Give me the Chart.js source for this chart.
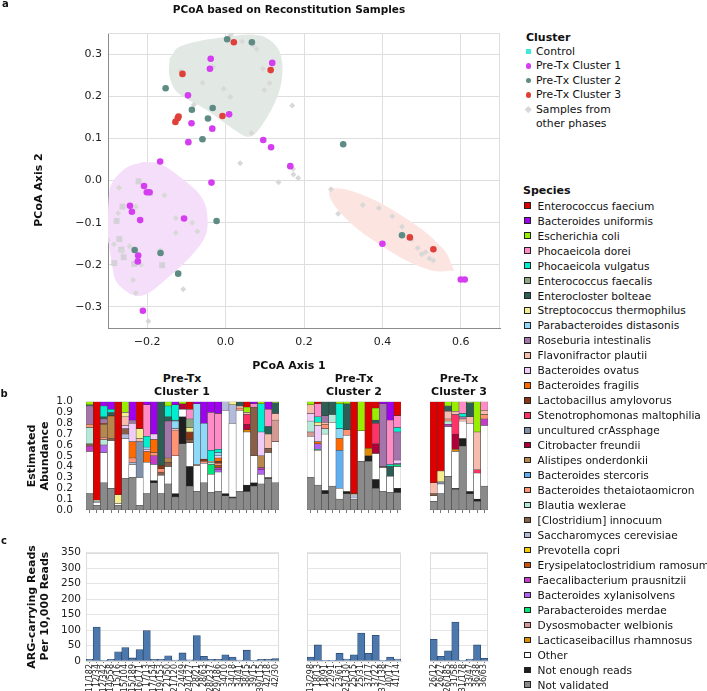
<!DOCTYPE html>
<html>
<head>
<meta charset="utf-8">
<title>PCoA based on Reconstitution Samples</title>
<script src="https://cdn.jsdelivr.net/npm/chart.js@4.4.1/dist/chart.umd.min.js"></script>
<style>
html,body{margin:0;padding:0;background:#fff;}
#fig{position:relative;width:707px;height:691px;overflow:hidden;font-family:'DejaVu Sans',sans-serif;color:#111;}
#fig canvas{position:absolute;}
.txt{position:absolute;white-space:nowrap;line-height:1;}
.mk{position:absolute;box-sizing:border-box;}
</style>
</head>
<body>
<div id="fig"></div>
<script>
// ================= DATA =================
const scatterXTicks = [-0.2, 0, 0.2, 0.4, 0.6];
const scatterYTicks = [-0.3, -0.2, -0.1, 0, 0.1, 0.2, 0.3];

const preTxCluster1Points = [[-0.038,0.289],[-0.040,0.265],[0.119,0.279],[-0.096,0.202],[0.009,0.157],[-0.087,0.136],[-0.034,0.123],[-0.095,0.091],[0.096,0.096],[0.116,0.079],[-0.167,0.045],[0.165,0.034],[-0.036,-0.005],[-0.208,-0.013],[-0.201,-0.028],[-0.194,-0.028],[-0.244,-0.060],[-0.239,-0.074],[-0.218,-0.094],[-0.106,-0.090],[-0.223,-0.178],[-0.224,-0.192],[-0.211,-0.309],[0.40,-0.15],[0.60,-0.235],[0.61,-0.235]];
const preTxCluster2Points = [[0.004,0.335],[0.067,0.328],[-0.153,0.219],[-0.086,0.168],[-0.033,0.172],[-0.045,0.147],[-0.059,0.098],[0.300,0.086],[-0.232,-0.165],[-0.166,-0.172],[-0.121,-0.221],[-0.023,-0.096],[0.45,-0.13]];
const preTxCluster3Points = [[0.021,0.328],[-0.110,0.253],[0.115,0.262],[-0.120,0.152],[-0.122,0.148],[-0.128,0.139],[-0.008,0.153],[0.47,-0.135],[0.53,-0.163]];
const otherPhasePoints = [[0.016,0.350],[0.012,0.345],[0.042,0.330],[0.070,0.321],[0.079,0.312],[-0.032,0.270],[-0.115,0.259],[0.095,0.265],[-0.059,0.232],[0.112,0.231],[-0.005,0.218],[0.099,0.215],[0.012,0.198],[-0.081,0.180],[0.170,0.178],[0.066,0.113],[0.037,0.041],[0.172,0.028],[0.173,0.014],[0.185,0.006],[0.135,-0.004],[-0.272,-0.017],[-0.229,-0.062],[-0.274,-0.078],[-0.156,-0.035],[-0.127,-0.089],[-0.085,-0.100],[-0.072,-0.121],[-0.127,-0.124],[-0.301,-0.142],[-0.285,-0.151],[-0.245,-0.156],[-0.263,-0.168],[-0.167,-0.165],[-0.216,-0.200],[-0.236,-0.236],[-0.229,-0.267],[-0.108,-0.258],[-0.197,-0.334],[0.269,-0.021],[0.287,-0.079],[0.350,-0.058],[0.391,-0.065],[0.425,-0.085],[0.45,-0.11],[0.475,-0.14],[0.49,-0.16],[0.51,-0.17],[0.52,-0.185],[0.53,-0.19],[0.50,-0.175]];
const otherPhaseSquares = [[-0.222,-0.002],[-0.263,-0.062],[-0.193,-0.030],[-0.278,-0.096],[-0.271,-0.139],[-0.266,-0.164],[-0.260,-0.182],[-0.284,-0.196],[-0.233,-0.198],[-0.162,-0.201]];

const hullCluster2 = [[-0.143,0.289],[-0.117,0.318],[0.003,0.341],[0.087,0.344],[0.130,0.318],[0.145,0.272],[0.135,0.206],[0.092,0.130],[0.061,0.104],[0.023,0.120],[-0.053,0.170],[-0.122,0.208],[-0.143,0.246],[-0.143,0.289]];
const hullCluster1 = [[-0.211,0.044],[-0.257,0.028],[-0.296,-0.020],[-0.301,-0.115],[-0.290,-0.198],[-0.275,-0.245],[-0.219,-0.274],[-0.150,-0.233],[-0.066,-0.155],[-0.046,-0.108],[-0.059,-0.043],[-0.117,0.009],[-0.168,0.040],[-0.211,0.044]];
const hullCluster3 = [[0.583,-0.214],[0.519,-0.212],[0.399,-0.156],[0.294,-0.078],[0.265,-0.024],[0.329,-0.027],[0.449,-0.083],[0.554,-0.161],[0.583,-0.214]];

const clusterLegendLabels = ['Control','Pre-Tx Cluster 1','Pre-Tx Cluster 2','Pre-Tx Cluster 3','Samples from\nother phases'];

const speciesCodes = ['EF','BU','EC','PD','PV','EFa','EB','ST','PDi','RI','FP','BO','BF','LA','SM','CR','CF','AO','BS','BT','BW','CI','SC','PC','ER','FPr','BX','PM','DW','LR','OT','NE','NV'];
const speciesNames = ['Enterococcus faecium','Bacteroides uniformis','Escherichia coli','Phocaeicola dorei','Phocaeicola vulgatus','Enterococcus faecalis','Enterocloster bolteae','Streptococcus thermophilus','Parabacteroides distasonis','Roseburia intestinalis','Flavonifractor plautii','Bacteroides ovatus','Bacteroides fragilis','Lactobacillus amylovorus','Stenotrophomonas maltophilia','uncultured crAssphage','Citrobacter freundii','Alistipes onderdonkii','Bacteroides stercoris','Bacteroides thetaiotaomicron','Blautia wexlerae','[Clostridium] innocuum','Saccharomyces cerevisiae','Prevotella copri','Erysipelatoclostridium ramosum','Faecalibacterium prausnitzii','Bacteroides xylanisolvens','Parabacteroides merdae','Dysosmobacter welbionis','Lacticaseibacillus rhamnosus','Other','Not enough reads','Not validated'];
const speciesColors = ['#dd0000','#a000f0','#99ee00','#ff8cc6','#00eed0','#8ca882','#2d5e55','#f5ee90','#90d8f8','#a475ab','#f8bcae','#f0cdf8','#ff6a00','#8a3514','#ff3366','#8092ab','#b0003a','#b8874d','#62aef2','#ff9475','#b5eada','#8a5f48','#b3bbdd','#f8ca00','#c9530a','#c33ec8','#b361f2','#00e676','#d29a92','#e08a00','#ffffff','#1e1e1e','#8a8a8a'];

const cluster1Labels = ['11/182','12/34','12/342','14/558','15/16','15/104','15/189','16/171','17/13','17/154','19/153','21/50','21/120','24/49','24/127','28/21','28/63','28/237','29/186','34/10','34/18','34/41','38/15','39/15','39/115','42/18','42/30'];
const cluster2Labels = ['13/298','18/13','18/91','22/91','23/61','23/130','25/15','25/31','37/17','37/22','37/138','40/17','41/14'];
const cluster3Labels = ['26/12','26/27','26/185','31/58','31/178','33/47','36/38','36/63'];

const cluster1Abundance = [
{NV:.15,OT:.39,FPr:.05,CI:.02,BW:.15,BT:.03,RI:.17,EB:.01,EC:.03},
{NV:.04,OT:.03,PDi:.01,ST:.01,EF:.91},
{NV:.25,OT:.28,BX:.07,BT:.02,BW:.05,AO:.12,LA:.01,RI:.04,EB:.02,PV:.10,BU:.04},
{NV:.20,OT:.44,CI:.02,AO:.20,BF:.01,EB:.03,PV:.03,BU:.07},
{NV:.04,OT:.02,ST:.08,EF:.86},
{NV:.29,OT:.37,SC:.04,CI:.05,FP:.08,BO:.03,ST:.04,EC:.10},
{NV:.30,OT:.12,SC:.02,BT:.04,BF:.15,BO:.17,RI:.03,BU:.17},
{NV:.04,OT:.26,CR:.33,FP:.03,ST:.09,EF:.25},
{NV:.15,OT:.29,BF:.10,BO:.02,PDi:.02,PV:.10,PD:.29,BU:.03},
{NV:.25,NE:.02,OT:.15,FPr:.08,BT:.03,BF:.12,BO:.05,BU:.30},
{NV:.15,OT:.17,CI:.03,BT:.03,LA:.03,EB:.59},
{NV:.24,OT:.16,CI:.04,AO:.04,RI:.34,EB:.04,PV:.10,EC:.04},
{NV:.12,NE:.03,OT:.35,BT:.23,FP:.02,PDi:.07,EB:.01,PV:.14,BU:.03},
{NV:.61,NE:.25,OT:.07,CF:.05,EC:.02},
{NV:.22,NE:.18,OT:.22,CI:.03,LA:.07,ST:.04,EFa:.08,PD:.09,EF:.07},
{NV:.17,OT:.24,BT:.01,PDi:.56,BU:.02},
{NV:.25,OT:.18,BT:.02,LA:.02,PDi:.33,BU:.20},
{NV:.16,OT:.17,PM:.09,BW:.02,BT:.01,PV:.10,PD:.35,BU:.10},
{NV:.17,OT:.18,BX:.02,FPr:.02,ER:.02,BT:.02,LA:.02,BF:.03,BO:.02,PDi:.03,PV:.03,PD:.33,BU:.11},
{NV:.13,NE:.02,OT:.77,SC:.08},
{NV:.11,NE:.01,OT:.68,SC:.17,ST:.03},
{NV:.17,OT:.75,BT:.02,FP:.02,EB:.04},
{NV:.17,NE:.06,OT:.49,LR:.02,CF:.05,SM:.09,FP:.02,EC:.05,EF:.05},
{NV:.22,NE:.03,OT:.25,CI:.45,PD:.03,BU:.02},
{NV:.24,OT:.09,BX:.04,FPr:.02,AO:.11,BO:.22,PV:.26,EC:.02},
{NV:.29,NE:.01,OT:.23,CI:.04,FP:.13,EB:.07,PD:.16,BU:.07},
{NV:.25,OT:.38,DW:.20,FP:.06,EB:.10,EC:.01}
];
const cluster2Abundance = [
{NV:.30,OT:.38,DW:.04,BW:.10,FP:.08,BO:.07,EC:.03},
{NV:.23,OT:.32,PM:.01,BX:.05,BF:.02,BO:.15,ST:.03,PV:.05,PD:.12,EF:.02},
{NV:.15,NE:.03,OT:.52,BW:.05,BT:.04,RI:.06,FP:.02,EB:.13},
{NV:.22,OT:.59,BW:.07,EB:.12},
{NV:.10,OT:.10,BS:.35,BF:.11,PDi:.09,PV:.23,EC:.02},
{NV:.15,NE:.02,OT:.52,BT:.05,EB:.24,EC:.02},
{NV:.10,OT:.01,SC:.03,ST:.01,EF:.85},
{NV:.45,OT:.28,EC:.27},
{NV:.45,NE:.05,LR:.07,EF:.43},
{NV:.20,NE:.08,OT:.24,CF:.09,SM:.19,EB:.03,EC:.11,EF:.06},
{NV:.17,OT:.22,CI:.01,RI:.58,BU:.02},
{NV:.16,OT:.15,EB:.09,PV:.02,PD:.41,BU:.17},
{NV:.16,NE:.04,OT:.20,PM:.02,BX:.01,BO:.03,RI:.26,PV:.04,PD:.11,EF:.13}
];
const cluster3Abundance = [
{NV:.08,OT:.05,CI:.02,FP:.10,EF:.75},
{NV:.15,OT:.09,CR:.02,ST:.10,EF:.64},
{NV:.31,OT:.46,FPr:.02,BW:.03,BT:.02,FP:.07,EB:.05,EC:.04},
{NV:.19,NE:.01,OT:.34,LR:.02,CF:.14,SM:.18,FP:.03,EC:.09},
{NV:.59,NE:.07,OT:.16,RI:.02,FP:.02,PV:.03,PD:.11},
{NV:.15,NE:.02,OT:.63,FP:.06,EB:.13,EC:.01},
{NV:.08,NE:.02,OT:.24,SM:.03,FP:.35,EC:.28},
{NV:.22,OT:.56,FPr:.06,BT:.04,FP:.04,PD:.08}
];
const abundanceTicks = [0,0.1,0.2,0.3,0.4,0.5,0.6,0.7,0.8,0.9,1.0];

const argCluster1 = [5,110,2,5,30,43,10,37,98,5,5,17,3,26,4,82,15,5,5,20,13,3,35,2,5,5,8];
const argCluster2 = [13,52,2,2,25,6,20,90,25,83,1,13,6];
const argCluster3 = [70,15,33,126,2,6,52,9];
const argTicks = [0,50,100,150,200,250,300,350];

// ================= RENDER =================
const fig = document.getElementById('fig');
Chart.defaults.font.family = "'DejaVu Sans', sans-serif";
Chart.defaults.color = '#222';
Chart.defaults.animation = false;

const framePlugin = {
  id: 'frame',
  beforeDatasetsDraw(chart, args, opts) {
    if (!opts || !opts.color) return;
    const a = chart.chartArea, c = chart.ctx;
    c.save(); c.strokeStyle = opts.color; c.lineWidth = 1;
    c.beginPath();
    c.moveTo(Math.round(a.left), Math.round(a.top) + 0.5);
    c.lineTo(Math.round(a.right) - 0.5, Math.round(a.top) + 0.5);
    c.lineTo(Math.round(a.right) - 0.5, Math.round(a.bottom));
    c.stroke(); c.restore();
  }
};
Chart.register(framePlugin);

function canvasAt(left, top, w, h) {
  const c = document.createElement('canvas');
  c.width = w; c.height = h;
  c.style.left = left + 'px'; c.style.top = top + 'px';
  c.style.width = w + 'px'; c.style.height = h + 'px';
  fig.appendChild(c);
  return c;
}
function fix(w, h) {
  return function (s) {
    if (w != null) s.width = w;
    if (h != null) s.height = h;
    s.paddingLeft = 0; s.paddingRight = 0; s.paddingTop = 0; s.paddingBottom = 0;
  };
}
function setTicks(list) { return function (s) { s.ticks = list.map(v => ({ value: v })); }; }
const fmt1 = v => (v < -1e-9 ? '\u2212' : '') + Math.abs(v).toFixed(1);
const toXY = a => a.map(p => ({ x: p[0], y: p[1] }));

// ---- Panel a: scatter ----
new Chart(canvasAt(0, 0, 520, 360), {
  type: 'scatter',
  data: {
    datasets: [
      { data: toXY(hullCluster2), showLine: true, fill: 'shape', tension: 0.35, backgroundColor: '#e2e9e5', borderWidth: 0, borderColor: 'rgba(0,0,0,0)', pointRadius: 0, order: 10 },
      { data: toXY(hullCluster1), showLine: true, fill: 'shape', tension: 0.35, backgroundColor: '#f5def9', borderWidth: 0, borderColor: 'rgba(0,0,0,0)', pointRadius: 0, order: 10 },
      { data: toXY(hullCluster3), showLine: true, fill: 'shape', tension: 0.4, backgroundColor: '#fce5e1', borderWidth: 0, borderColor: 'rgba(0,0,0,0)', pointRadius: 0, order: 10 },
      { data: toXY(otherPhasePoints), pointStyle: 'rectRot', pointRadius: 3, backgroundColor: '#d8d8d8', borderWidth: 0, order: 6 },
      { data: toXY(otherPhaseSquares), pointStyle: 'rect', pointRadius: 4.2, backgroundColor: '#d5d1d9', borderWidth: 0, order: 6 },
      { data: toXY(preTxCluster1Points), pointRadius: 3.3, backgroundColor: '#d43df0', borderWidth: 0, order: 3 },
      { data: toXY(preTxCluster2Points), pointRadius: 3.3, backgroundColor: '#5e8c84', borderWidth: 0, order: 2 },
      { data: toXY(preTxCluster3Points), pointRadius: 3.3, backgroundColor: '#e0403a', borderWidth: 0, order: 1 }
    ]
  },
  options: {
    responsive: false, events: [],
    layout: { padding: { top: 33, right: 20, left: 0, bottom: 0 } },
    plugins: { legend: { display: false }, tooltip: { enabled: false }, frame: { color: '#dedede' } },
    scales: {
      x: { type: 'linear', min: -0.3, max: 0.7, grid: { color: '#dedede', drawTicks: false }, border: { display: true, color: '#8c8c8c' },
           ticks: { font: { size: 11 }, padding: 8, autoSkip: false, callback: fmt1 }, afterBuildTicks: setTicks(scatterXTicks), afterFit: fix(null, 32) },
      y: { type: 'linear', min: -0.35, max: 0.35, grid: { color: '#dedede', drawTicks: false }, border: { display: true, color: '#8c8c8c' },
           ticks: { font: { size: 11 }, padding: 6, autoSkip: false, callback: fmt1 }, afterBuildTicks: setTicks(scatterYTicks), afterFit: fix(108, null) }
    }
  }
});

// ---- Panel b: stacked abundance ----
const stackOrder = speciesCodes.map((c, i) => i).reverse();
function stackedChart(left, top, w, h, pad, labels, bars, showY) {
  new Chart(canvasAt(left, top, w, h), {
    type: 'bar',
    data: {
      labels: labels,
      datasets: stackOrder.map(i => ({
        label: speciesNames[i],
        data: bars.map(b => (b[speciesCodes[i]] != null ? b[speciesCodes[i]] : null)),
        backgroundColor: speciesColors[i], borderColor: '#3c3c3c', borderWidth: 0.5, borderSkipped: false,
        categoryPercentage: 1, barPercentage: 1
      }))
    },
    options: {
      responsive: false, events: [],
      layout: { padding: pad },
      plugins: { legend: { display: false }, tooltip: { enabled: false } },
      scales: {
        x: { stacked: true, offset: true, grid: { display: true, drawOnChartArea: false, offset: false, drawTicks: true, tickLength: 3, color: '#777' },
             border: { display: false }, ticks: { display: false, autoSkip: false }, afterFit: fix(null, 10) },
        y: { stacked: true, min: 0, max: 1, display: showY, grid: { display: false }, border: { display: false },
             ticks: { font: { size: 10.5 }, padding: 5, autoSkip: false, callback: v => v.toFixed(1) }, afterBuildTicks: setTicks(abundanceTicks), afterFit: fix(showY ? 86 : 0, null) }
      }
    }
  });
}
stackedChart(0, 390, 285, 130, { top: 11.7, right: 6, left: 0, bottom: 0 }, cluster1Labels, cluster1Abundance, true);
stackedChart(301, 390, 106, 130, { top: 11.7, right: 6, left: 6, bottom: 0 }, cluster2Labels, cluster2Abundance, false);
stackedChart(424, 390, 70, 130, { top: 11.7, right: 6, left: 6, bottom: 0 }, cluster3Labels, cluster3Abundance, false);

// ---- Panel c: ARG bars ----
function argChart(left, top, w, h, pad, labels, values, showY) {
  new Chart(canvasAt(left, top, w, h), {
    type: 'bar',
    data: { labels: labels, datasets: [{ data: values, backgroundColor: '#4c78ae', borderColor: '#2b4a70', borderWidth: 0.8, borderSkipped: false, categoryPercentage: 1, barPercentage: 1 }] },
    options: {
      responsive: false, events: [],
      layout: { padding: pad },
      plugins: { legend: { display: false }, tooltip: { enabled: false }, frame: { color: '#dcdcdc' } },
      scales: {
        x: { offset: true, grid: { drawOnChartArea: false, offset: false, drawTicks: true, tickLength: 2, color: '#777' }, border: { display: true, color: '#dcdcdc' },
             ticks: { autoSkip: false, minRotation: 90, maxRotation: 90, font: { size: 8 }, padding: 1 }, afterFit: fix(null, 30) },
        y: { min: 0, max: 350, grid: { color: '#e6e6e6', drawTicks: false }, border: { display: true, color: '#dcdcdc' },
             ticks: { display: showY, autoSkip: false, font: { size: 10.5 }, padding: 5 }, afterBuildTicks: setTicks(argTicks), afterFit: fix(showY ? 86 : 0, null) }
      }
    }
  });
}
argChart(0, 540, 285, 151, { top: 12.7, right: 6, left: 0, bottom: 0 }, cluster1Labels, argCluster1, true);
argChart(301, 540, 106, 151, { top: 12.7, right: 6, left: 6, bottom: 0 }, cluster2Labels, argCluster2, false);
argChart(424, 540, 70, 151, { top: 12.7, right: 6, left: 6, bottom: 0 }, cluster3Labels, argCluster3, false);

// ---- Texts ----
function text(str, x, y, o) {
  o = o || {};
  const d = document.createElement('div');
  d.className = 'txt'; d.textContent = str;
  d.style.fontSize = (o.size || 11) + 'px';
  if (o.bold) d.style.fontWeight = 'bold';
  d.style.left = x + 'px'; d.style.top = y + 'px';
  const tx = o.align === 'left' ? '0' : '-50%';
  d.style.transform = 'translate(' + tx + ',-50%)' + (o.rot ? ' rotate(-90deg)' : '');
  fig.appendChild(d);
  return d;
}
function mk(x, y, w, h, css) {
  const d = document.createElement('div');
  d.className = 'mk';
  d.style.left = (x - w / 2) + 'px'; d.style.top = (y - h / 2) + 'px';
  d.style.width = w + 'px'; d.style.height = h + 'px';
  Object.assign(d.style, css);
  fig.appendChild(d);
}

text('a', 2, 4, { bold: true, size: 10, align: 'left' });
text('PCoA based on Reconstitution Samples', 289, 9, { bold: true, size: 10.5 });
text('PCoA Axis 2', 38, 190, { bold: true, rot: true });
text('PCoA Axis 1', 289, 365, { bold: true });

// Cluster legend
text('Cluster', 526, 37, { bold: true, align: 'left' });
const clusterRowsY = [51.7, 66, 80.7, 95, 109.7];
mk(528.3, clusterRowsY[0], 5, 5, { background: '#40e8d8' });
mk(528.3, clusterRowsY[1], 5.5, 5.5, { background: '#d43df0', borderRadius: '50%' });
mk(528.3, clusterRowsY[2], 5.5, 5.5, { background: '#5e8c84', borderRadius: '50%' });
mk(528.3, clusterRowsY[3], 5.5, 5.5, { background: '#e0403a', borderRadius: '50%' });
mk(528.3, clusterRowsY[4], 4.5, 4.5, { background: '#d8d8d8', transform: 'rotate(45deg)' });
clusterLegendLabels.forEach((lab, i) => {
  lab.split('\n').forEach((line, j) => text(line, 536, clusterRowsY[i] + j * 14.4, { size: 10.8, align: 'left' }));
});

// Species legend
text('Species', 523, 190, { bold: true, align: 'left' });
speciesNames.forEach((name, i) => {
  const y = 205.7 + i * 14.97;
  mk(527.3, y, 6.5, 6.5, { background: speciesColors[i], border: '1px solid #222' });
  text(name, 537.5, y, { size: 10.6, align: 'left' });
});

// Panel b/c labels
text('b', 4, 394, { bold: true, size: 10 });
text('Estimated', 31, 456, { bold: true, rot: true });
text('Abundance', 43.5, 456, { bold: true, rot: true });
[[182, 'Cluster 1'], [354, 'Cluster 2'], [459, 'Cluster 3']].forEach(([x, t]) => {
  text('Pre-Tx', x, 377.5, { bold: true });
  text(t, x, 390.8, { bold: true });
});
text('c', 4, 541, { bold: true, size: 10 });
text('ARG-carrying Reads', 31, 607, { bold: true, rot: true });
text('Per 10,000 Reads', 44, 606, { bold: true, rot: true });
</script>
</body>
</html>
